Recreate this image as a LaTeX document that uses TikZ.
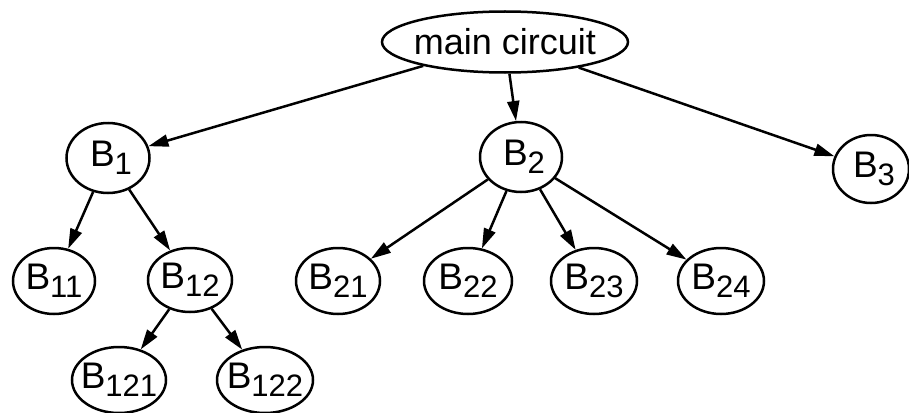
\documentclass[tikz,border=0pt]{standalone}
\usepackage{fontspec}
\setmainfont{Liberation Sans}
\usetikzlibrary{shapes.geometric,arrows.meta}
% lowered index digits, set a little smaller than the letter
\newcommand{\lowidx}[1]{\raisebox{-8pt}{\fontsize{31}{31}\selectfont #1}}
% zero-width label so the ellipse size comes from the given dimensions only
\newcommand{\lbl}[1]{\makebox[0pt]{#1}}
\begin{document}
\begin{tikzpicture}[x=1pt,y=-1pt,
  blk/.style={ellipse,draw,line width=2.5pt,inner sep=0pt,
    font=\fontsize{37}{37}\selectfont},
  arr/.style={-{Triangle[length=20pt,width=12pt]},line width=2.5pt}]
\useasboundingbox (0,0) rectangle (909,412);
% top level
\node[blk,minimum width=246pt,minimum height=61pt,font=\fontsize{36}{36}\selectfont] (main) at (505,42) {\lbl{main circuit}};
% first level blocks
\node[blk,minimum width=83pt,minimum height=70pt] (b1) at (108,158) {\lbl{\hspace{6pt}B\lowidx{1}}};
\node[blk,minimum width=82pt,minimum height=70pt] (b2) at (521,157) {\lbl{\hspace{6pt}B\lowidx{2}}};
\node[blk,minimum width=76pt,minimum height=68pt] (b3) at (871,169) {\lbl{\hspace{6pt}B\lowidx{3}}};
% second level blocks
\node[blk,minimum width=82pt,minimum height=66pt] (b11) at (54,281) {\lbl{B\lowidx{11}}};
\node[blk,minimum width=84pt,minimum height=64pt] (b12) at (190,280) {\lbl{B\lowidx{12}}};
\node[blk,minimum width=84pt,minimum height=66pt] (b21) at (338,281) {\lbl{B\lowidx{21}}};
\node[blk,minimum width=88pt,minimum height=66pt] (b22) at (468,281) {\lbl{B\lowidx{22}}};
\node[blk,minimum width=86pt,minimum height=66pt] (b23) at (594,281) {\lbl{B\lowidx{23}}};
\node[blk,minimum width=86pt,minimum height=66pt] (b24) at (721,281) {\lbl{B\lowidx{24}}};
% third level blocks
\node[blk,minimum width=94pt,minimum height=66pt] (b121) at (119,380) {\lbl{B\lowidx{121}}};
\node[blk,minimum width=96pt,minimum height=66pt] (b122) at (265,380) {\lbl{B\lowidx{122}}};
% hierarchy connectors
\draw[arr] (main) -- (b1);
\draw[arr] (main) -- (b2);
\draw[arr] (main) -- (b3);
\draw[arr] (b1) -- (b11);
\draw[arr] (b1) -- (b12);
\draw[arr] (b12) -- (b121);
\draw[arr] (b12) -- (b122);
\draw[arr] (b2) -- (b21);
\draw[arr] (b2) -- (b22);
\draw[arr] (b2) -- (b23);
\draw[arr] (b2) -- (b24);
\end{tikzpicture}
\end{document}
